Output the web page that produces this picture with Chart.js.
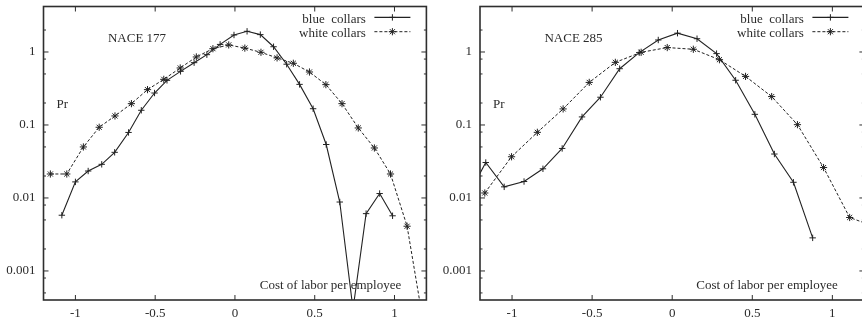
<!DOCTYPE html>
<html><head><meta charset="utf-8">
<script src="https://cdn.jsdelivr.net/npm/chart.js@4"></script>
<style>
html,body{margin:0;padding:0;background:#fff;overflow:hidden;width:862px;height:325px;}
#wrap{position:relative;width:862px;height:325px;overflow:hidden;}
canvas{position:absolute;top:0;}
.t{position:absolute;font-family:"Liberation Serif","Times New Roman",serif;font-size:13px;line-height:13px;color:#2b2b2b;white-space:pre;}
</style></head><body>
<div id="wrap">
<canvas id="c1" width="431" height="325" style="left:0px"></canvas>
<canvas id="c2" width="432" height="325" style="left:437px"></canvas>
</div>
<script>
// ---- data ----
const seriesLabels = ['blue  collars', 'white collars'];
const panelTitles = ['NACE 177', 'NACE 285'];
const yAxisLabel = 'Pr';
const xAxisLabel = 'Cost of labor per employee';

const xTicks = [-1, -0.5, 0, 0.5, 1];
const xTickLabels = ['-1', '-0.5', '0', '0.5', '1'];
const yTicks = [0.001, 0.01, 0.1, 1];
const yTickLabels = ['0.001', '0.01', '0.1', '1'];
const yMinorTicks = [0.0005, 0.0008, 0.002, 0.005, 0.008, 0.02, 0.05, 0.08, 0.2, 0.5, 0.8, 2];

const blueX177 = [-1.085,-1.0,-0.92,-0.835,-0.754,-0.667,-0.587,-0.504,-0.426,-0.341,-0.256,-0.176,-0.093,-0.006,0.076,0.159,0.242,0.324,0.405,0.49,0.572,0.657,0.74,0.822,0.907,0.988];
const blueY177 = [0.0058,0.0166,0.0234,0.0289,0.0422,0.079,0.159,0.274,0.409,0.543,0.714,0.919,1.27,1.71,1.92,1.73,1.18,0.68,0.36,0.167,0.054,0.0088,0.0003,0.0061,0.0115,0.0057];
const whiteX177 = [-1.157,-1.054,-0.95,-0.851,-0.752,-0.649,-0.548,-0.446,-0.343,-0.242,-0.138,-0.039,0.062,0.163,0.264,0.366,0.467,0.57,0.671,0.773,0.874,0.975,1.079,1.18];
const whiteY177 = [0.0213,0.0213,0.05,0.093,0.133,0.196,0.305,0.422,0.604,0.855,1.11,1.25,1.13,0.99,0.83,0.70,0.532,0.357,0.196,0.091,0.0484,0.0213,0.0041,0.0002];

const blueX285 = [-1.28,-1.164,-1.049,-0.925,-0.807,-0.687,-0.563,-0.448,-0.328,-0.206,-0.087,0.033,0.155,0.277,0.396,0.516,0.638,0.757,0.877];
const blueY285 = [0.0103,0.0306,0.0142,0.0168,0.0251,0.0477,0.129,0.24,0.59,0.98,1.46,1.81,1.52,0.95,0.41,0.14,0.040,0.0164,0.00284];
const whiteX285 = [-1.17,-1.003,-0.842,-0.681,-0.518,-0.355,-0.194,-0.031,0.132,0.295,0.458,0.621,0.782,0.945,1.108,1.27];
const whiteY285 = [0.0117,0.0367,0.0793,0.166,0.383,0.721,0.99,1.15,1.09,0.784,0.463,0.245,0.101,0.0261,0.0054,0.004];

// ---- styling ----
const ink = '#222';
const frameInk = '#2e2e2e';
const textInk = '#2b2b2b';
const fontFamily = '"Liberation Serif","Times New Roman",serif';

function zip(xs, ys) { return xs.map((x, i) => ({x: x, y: ys[i]})); }

const gnuFrame = {
  id: 'gnuFrame',
  afterDatasetsDraw(chart) {
    const {ctx, chartArea: a} = chart;
    const xs = chart.scales.x, ys = chart.scales.y;
    ctx.save();
    ctx.strokeStyle = frameInk;
    ctx.lineWidth = 1;
    ctx.setLineDash([]);
    ctx.beginPath();
    xTicks.forEach(v => {
      const p = xs.getPixelForValue(v);
      ctx.moveTo(p, a.bottom); ctx.lineTo(p, a.bottom - 5);
      ctx.moveTo(p, a.top); ctx.lineTo(p, a.top + 5);
    });
    yTicks.forEach(v => {
      const p = ys.getPixelForValue(v);
      ctx.moveTo(a.left, p); ctx.lineTo(a.left + 5, p);
      ctx.moveTo(a.right, p); ctx.lineTo(a.right - 5, p);
    });
    yMinorTicks.forEach(v => {
      const p = ys.getPixelForValue(v);
      if (p < a.top || p > a.bottom) return;
      ctx.moveTo(a.left, p); ctx.lineTo(a.left + 2.5, p);
      ctx.moveTo(a.right, p); ctx.lineTo(a.right - 2.5, p);
    });
    ctx.stroke();
    ctx.lineWidth = 1.6;
    ctx.strokeRect(a.left, a.top, a.right - a.left, a.bottom - a.top);
    // legend samples
    const legY = [17.4, 31.7];
    chart.data.datasets.forEach((ds, i) => {
      ctx.strokeStyle = ds.borderColor;
      ctx.lineWidth = ds.borderWidth;
      ctx.setLineDash(ds.borderDash || []);
      ctx.beginPath();
      ctx.moveTo(a.right - 52, legY[i]);
      ctx.lineTo(a.right - 16, legY[i]);
      ctx.stroke();
      ctx.setLineDash([]);
      ctx.lineWidth = ds.pointBorderWidth;
      ctx.strokeStyle = ds.pointBorderColor;
      Chart.helpers.drawPoint(ctx, {pointStyle: ds.pointStyle, radius: ds.pointRadius, rotation: 0, borderWidth: ds.pointBorderWidth}, a.right - 34, legY[i]);
    });
    ctx.restore();
  }
};

function addText(txt, x, y, align) {
  const d = document.createElement('div');
  d.className = 't';
  d.textContent = txt;
  d.style.left = x + 'px';
  d.style.top = y + 'px';
  d.style.transform = align === 'right' ? 'translate(-100%,-50%)' : 'translate(-50%,-50%)';
  document.getElementById('wrap').appendChild(d);
}

function zeroPad(s) { s.paddingTop = 0; s.paddingBottom = 0; s.paddingLeft = 0; s.paddingRight = 0; }

function makePanel(id, offsetX, yWidth, padRight, title, bx, by, wx, wy) {
  const chart = new Chart(document.getElementById(id), {
    type: 'scatter',
    data: {
      datasets: [
        {label: seriesLabels[0], data: zip(bx, by), showLine: true, borderColor: ink, borderWidth: 1.1,
         pointStyle: 'cross', pointRadius: 3.2, pointHoverRadius: 3.2, pointBorderWidth: 1, pointBorderColor: ink,
         pointBackgroundColor: 'rgba(0,0,0,0)', tension: 0, clip: 0},
        {label: seriesLabels[1], data: zip(wx, wy), showLine: true, borderColor: ink, borderWidth: 1, borderDash: [3, 2],
         pointStyle: 'star', pointRadius: 3.6, pointHoverRadius: 3.6, pointBorderWidth: 1, pointBorderColor: ink,
         pointBackgroundColor: 'rgba(0,0,0,0)', tension: 0, clip: 0}
      ]
    },
    options: {
      responsive: false, animation: false, devicePixelRatio: 1,
      layout: {padding: {top: 6.5, right: padRight, left: 0, bottom: 0}},
      plugins: {legend: {display: false}, tooltip: {enabled: false}},
      events: [],
      scales: {
        x: {type: 'linear', min: -1.2, max: 1.2,
            afterBuildTicks: s => { s.ticks = xTicks.map(v => ({value: v})); },
            afterFit: s => { s.height = 25; zeroPad(s); },
            grid: {display: false, drawTicks: false}, border: {display: false},
            ticks: {callback: (v, i) => xTickLabels[i], font: {family: fontFamily, size: 13}, color: textInk,
                    padding: 6, maxRotation: 0, autoSkip: false}},
        y: {type: 'logarithmic', min: 0.0004, max: 4.2,
            afterBuildTicks: s => { s.ticks = yTicks.map(v => ({value: v})); },
            afterFit: s => { s.width = yWidth; zeroPad(s); },
            grid: {display: false, drawTicks: false}, border: {display: false},
            ticks: {callback: (v, i) => yTickLabels[i], font: {family: fontFamily, size: 13}, color: textInk,
                    padding: 8, autoSkip: false}}
      }
    },
    plugins: [gnuFrame]
  });
  const a = chart.chartArea;
  addText(title, offsetX + a.left + 93.5, 36.7, 'center');
  addText(yAxisLabel, offsetX + a.left + 18.9, 103.2, 'center');
  addText(xAxisLabel, offsetX + a.left + 287, 283.5, 'center');
  addText(seriesLabels[0], offsetX + a.right - 60.5, 17.8, 'right');
  addText(seriesLabels[1], offsetX + a.right - 60.5, 32.1, 'right');
  return chart;
}

makePanel('c1', 0, 43.5, 0.3, panelTitles[0], blueX177, blueY177, whiteX177, whiteY177);
makePanel('c2', 437, 43, 1.7, panelTitles[1], blueX285, blueY285, whiteX285, whiteY285);
</script>
</body></html>
